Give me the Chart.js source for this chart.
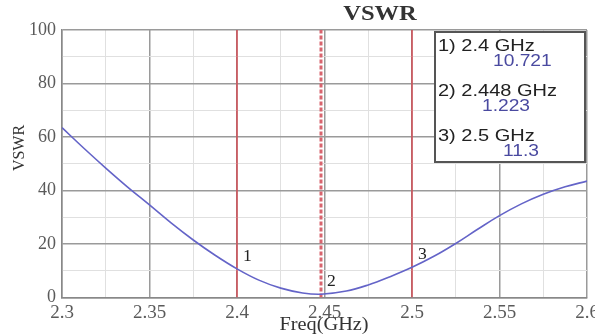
<!DOCTYPE html>
<html>
<head>
<meta charset="utf-8">
<script src="https://cdn.jsdelivr.net/npm/chart.js@4/dist/chart.umd.min.js"></script>
<style>
  html, body { margin: 0; padding: 0; background: #fff; }
  #wrap { width: 595px; height: 336px; }
</style>
</head>
<body>
<div id="wrap"><canvas id="chart" width="595" height="336"></canvas></div>
<script>
// values
var freqs = [2.3, 2.3125, 2.325, 2.3375, 2.35, 2.3625, 2.375, 2.3875, 2.4, 2.4125, 2.425, 2.4375, 2.448,
  2.4625, 2.475, 2.4875, 2.5, 2.5125, 2.525, 2.5375, 2.55, 2.5625, 2.575, 2.5875, 2.6];
var vswr = [63.5, 55.8, 48.4, 41.3, 34.6, 27.8, 21.5, 15.8, 10.721, 6.5, 3.5, 1.7, 1.223,
  2.4, 4.7, 7.8, 11.3, 15.4, 20.2, 25.5, 30.6, 35.0, 38.6, 41.4, 43.5];

var markerNames = ['1', '2', '3'];
var markerFreqs = [2.4, 2.448, 2.5];
var markerVals = [10.721, 1.223, 11.3];
var markerLabels = ['1) 2.4 GHz', '2) 2.448 GHz', '3) 2.5 GHz'];
var markerTexts = ['10.721', '1.223', '11.3'];

var xTicks = [2.3, 2.35, 2.4, 2.45, 2.5, 2.55, 2.6];
var yTicks = [0, 20, 40, 60, 80, 100];

var serif = '"Liberation Serif", "DejaVu Serif", serif';
var sans = '"Liberation Sans", Arial, sans-serif';

function isMajorX (v) {
  return xTicks.some(function (t) { return Math.abs(t - v) < 1e-6; });
}
function isMajorY (v) {
  return yTicks.indexOf(Math.round(v)) !== -1;
}

// text in the picture is a bit wider than the fonts, so stretch it
function wideText (ctx, text, x, y, sx) {
  ctx.save();
  ctx.translate(x, y);
  ctx.scale(sx, 1);
  ctx.fillText(text, 0, 0);
  ctx.restore();
}

var datasets = [{
  data: freqs.map(function (f, i) { return { x: f, y: vswr[i] }; }),
  borderColor: '#6464c8',
  borderWidth: 1.6,
  pointRadius: 0,
  tension: 0.4,
  fill: false
}];
for (let i = 0; i < markerFreqs.length; i++) {
  datasets.push({
    data: [{ x: markerFreqs[i], y: 0 }, { x: markerFreqs[i], y: 100 }],
    borderColor: i === 1 ? '#d8646e' : '#d4474f',
    borderWidth: i === 1 ? 3 : 1.4,
    borderDash: i === 1 ? [4, 2] : [],
    pointRadius: 0,
    fill: false
  });
}

var decorPlugin = {
  id: 'decor',
  afterDatasetsDraw: function (chart) {
    const ctx = chart.ctx;
    const xs = chart.scales.x;
    const ys = chart.scales.y;
    ctx.save();
    // marker numbers
    ctx.fillStyle = '#222';
    ctx.font = '16px ' + serif;
    ctx.textAlign = 'left';
    ctx.textBaseline = 'middle';
    for (let i = 0; i < markerFreqs.length; i++) {
      wideText(ctx, markerNames[i], xs.getPixelForValue(markerFreqs[i]) + 6, ys.getPixelForValue(markerVals[i]) - 12, 1.1);
    }
    // marker table
    ctx.fillStyle = '#fff';
    ctx.fillRect(435, 32, 150, 130);
    ctx.strokeStyle = '#555';
    ctx.lineWidth = 2;
    ctx.strokeRect(435, 32, 150, 130);
    ctx.font = '16px ' + sans;
    var valueX = [493, 482, 503];
    for (let i = 0; i < markerLabels.length; i++) {
      ctx.fillStyle = '#222';
      wideText(ctx, markerLabels[i], 438, 47 + i * 45, 1.25);
      ctx.fillStyle = '#4a4aa0';
      wideText(ctx, markerTexts[i], valueX[i], 62 + i * 45, 1.2);
    }
    // titles
    ctx.fillStyle = '#333';
    ctx.textAlign = 'center';
    ctx.font = 'bold 21px ' + serif;
    wideText(ctx, 'VSWR', 380, 15, 1.17);
    ctx.font = '18px ' + serif;
    wideText(ctx, 'Freq(GHz)', 324, 325, 1.13);
    ctx.translate(20, 148);
    ctx.rotate(-Math.PI / 2);
    ctx.font = '16px ' + serif;
    ctx.fillText('VSWR', 0, 0);
    ctx.restore();
  }
};

new Chart(document.getElementById('chart'), {
  type: 'line',
  data: { datasets: datasets },
  options: {
    responsive: false,
    animation: false,
    layout: { padding: { top: 30, right: 8, left: 0, bottom: 0 } },
    plugins: { legend: { display: false }, tooltip: { enabled: false }, title: { display: false } },
    scales: {
      x: {
        type: 'linear',
        min: 2.3,
        max: 2.6,
        afterBuildTicks: function (scale) {
          var t = [];
          for (let k = 0; k <= 12; k++) t.push({ value: Math.round((2.3 + k * 0.025) * 1000) / 1000 });
          scale.ticks = t;
        },
        afterFit: function (scale) {
          scale.height = 38.5;
          scale.paddingLeft = 0;
          scale.paddingRight = 0;
        },
        ticks: {
          autoSkip: false,
          maxRotation: 0,
          padding: 4,
          color: '#5a5a5a',
          font: { family: serif, size: 19 },
          callback: function (v) { return isMajorX(v) ? String(v) : ''; }
        },
        grid: {
          drawTicks: false,
          color: function (c) { return isMajorX(c.tick.value) ? '#9a9a9a' : '#e0e0e0'; },
          lineWidth: function (c) { return isMajorX(c.tick.value) ? 1.5 : 1; }
        },
        border: { color: '#888', width: 1.5 }
      },
      y: {
        min: 0,
        max: 100,
        ticks: {
          stepSize: 10,
          padding: 6,
          color: '#5a5a5a',
          font: { family: serif, size: 18 },
          callback: function (v) { return isMajorY(v) ? String(v) : ''; }
        },
        afterFit: function (scale) {
          scale.width = 62;
          scale.paddingTop = 0;
          scale.paddingBottom = 0;
        },
        grid: {
          drawTicks: false,
          color: function (c) { return isMajorY(c.tick.value) ? '#9a9a9a' : '#e0e0e0'; },
          lineWidth: function (c) { return isMajorY(c.tick.value) ? 1.5 : 1; }
        },
        border: { color: '#888', width: 1.5 }
      }
    }
  },
  plugins: [decorPlugin]
});
</script>
</body>
</html>
